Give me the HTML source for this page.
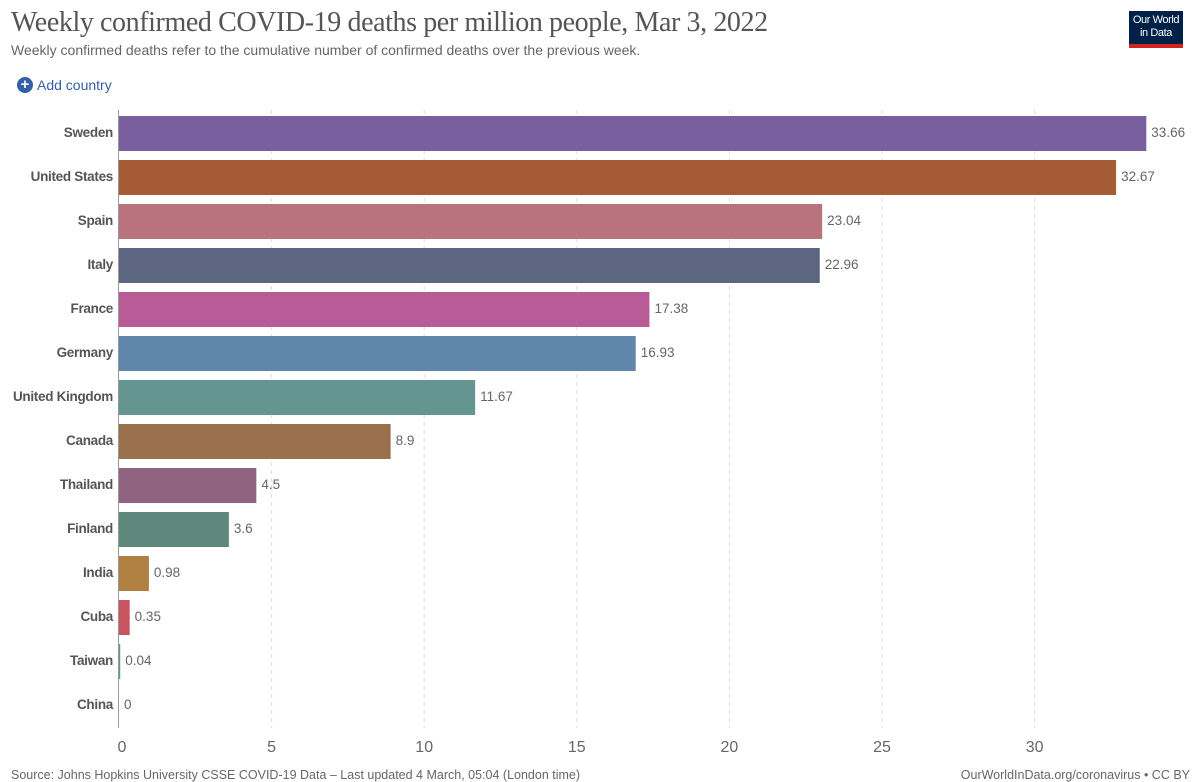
<!DOCTYPE html>
<html><head><meta charset="utf-8">
<style>
body{margin:0;background:#fff;width:1200px;height:779px;overflow:hidden;font-family:"Liberation Sans",sans-serif;position:relative}
.title{position:absolute;left:11px;top:7px;font-family:"Liberation Serif",serif;font-size:28px;color:#555;letter-spacing:-0.4px;white-space:nowrap}
.sub{position:absolute;left:11px;top:42px;font-size:14px;color:#666;white-space:nowrap}
.add{position:absolute;left:17px;top:77px;font-size:14px;color:#3360a9;display:flex;align-items:center;gap:4px}
.add span.c{width:16px;height:16px;border-radius:50%;background:#3360a9;color:#fff;font-size:15px;line-height:16px;text-align:center;font-weight:bold}
.logo{position:absolute;left:1129px;top:11px;width:54px;height:37px;background:#002147;color:#fff;font-size:11px;line-height:13px;text-align:center;padding-top:3px;box-sizing:border-box;border-bottom:4px solid #ce261e;white-space:nowrap;overflow:hidden;letter-spacing:-0.4px}
.foot{position:absolute;top:768px;font-size:12.5px;color:#666;white-space:nowrap}
</style></head><body>
<div class="title">Weekly confirmed COVID-19 deaths per million people, Mar 3, 2022</div>
<div class="sub">Weekly confirmed deaths refer to the cumulative number of confirmed deaths over the previous week.</div>
<div class="add"><span class="c">+</span>Add country</div>
<div class="logo">Our World<br>in Data</div>
<svg id="chart" width="1200" height="779" style="position:absolute;left:0;top:0"></svg>
<div class="foot" style="left:11px">Source: Johns Hopkins University CSSE COVID-19 Data – Last updated 4 March, 05:04 (London time)</div>
<div class="foot" style="right:10px">OurWorldInData.org/coronavirus • CC BY</div>
<script>
const countries=["Sweden","United States","Spain","Italy","France","Germany","United Kingdom","Canada","Thailand","Finland","India","Cuba","Taiwan","China"];
const values=[33.66,32.67,23.04,22.96,17.38,16.93,11.67,8.9,4.5,3.6,0.98,0.35,0.04,0];
const labels=["33.66","32.67","23.04","22.96","17.38","16.93","11.67","8.9","4.5","3.6","0.98","0.35","0.04","0"];
const ticks=[0,5,10,15,20,25,30];
const colors=["#7a5f9f","#a65b37","#b8737c","#5c6680","#b95b97","#5f86aa","#659590","#9b704d","#906381","#5f887c","#b07f42","#c8545f","#5e9a87","#888"];
const svg=document.getElementById('chart');
const NS='http://www.w3.org/2000/svg';
const x=v=>119+v*30.52;
const y=i=>116+i*44;
function mk(t,a){const e=document.createElementNS(NS,t);for(const k in a)e.setAttribute(k,a[k]);svg.appendChild(e);return e;}
ticks.forEach(t=>{
  if(t>0){const l=mk('line',{x1:x(t),x2:x(t),y1:110,y2:728,stroke:'#ddd','stroke-dasharray':'4,4'});
  
  }
  const tx=mk('text',{x:x(t)+(t==0?3:0),y:752,'text-anchor':'middle','font-size':16,fill:'#666','font-family':'Liberation Sans'});
  tx.textContent=t;
  
  
});
const ax=mk('line',{x1:118.5,x2:118.5,y1:110,y2:728,stroke:'#999'});


countries.forEach((c,i)=>{
  const r=mk('rect',{x:x(0),y:y(i),width:Math.max(x(values[i])-x(0),0),height:35,fill:colors[i]});
  
  
  const n=mk('text',{x:113,y:y(i)+21,'text-anchor':'end','font-size':13.5,'font-weight':'bold',fill:'#555','font-family':'Liberation Sans','letter-spacing':'-0.3'});
  n.textContent=c;
  
  
  const v=mk('text',{x:x(values[i])+5,y:y(i)+21,'font-size':13.5,fill:'#666','font-family':'Liberation Sans'});
  v.textContent=labels[i];
  
  
});
</script>
</body></html>
